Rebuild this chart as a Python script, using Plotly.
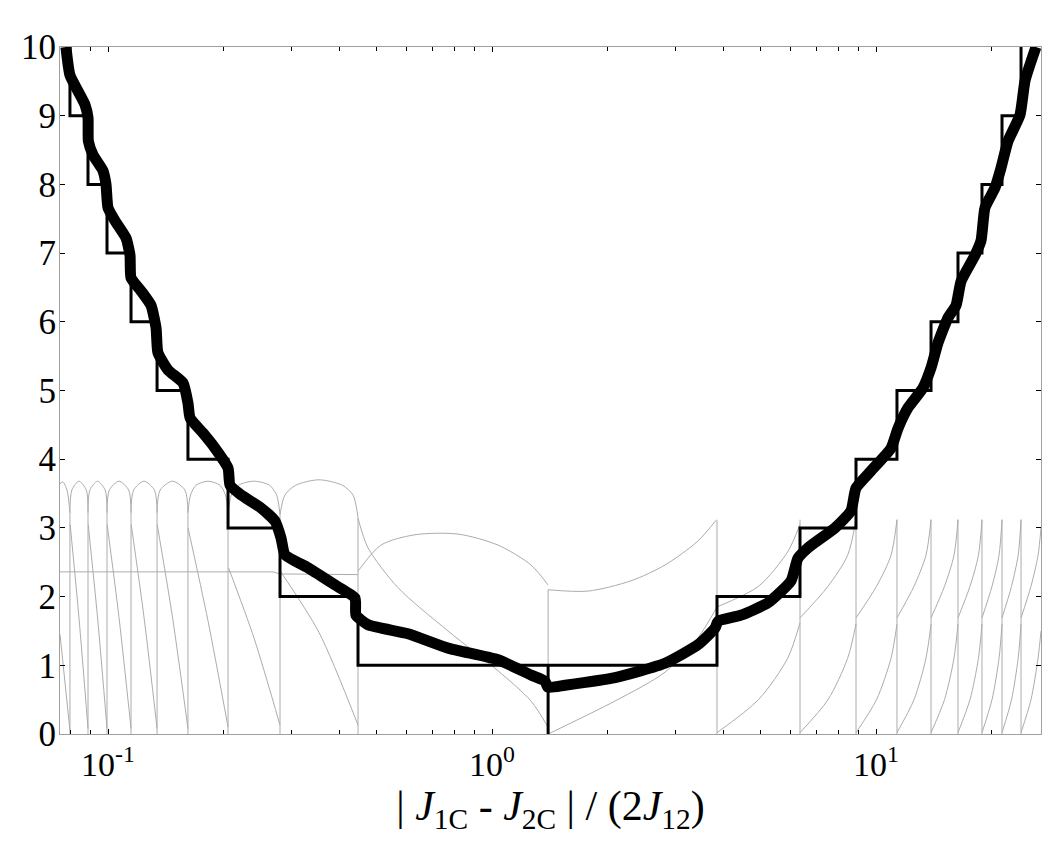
import plotly.graph_objects as go

# ---------------- data ----------------
# positions of the integer steps (x = |J1C - J2C| / (2 J12))
step_edges = [0.0796, 0.0887, 0.0994, 0.1148, 0.1342, 0.1615, 0.2054, 0.2805, 0.4478,
              1.40, 3.854, 6.340, 8.870, 11.34, 13.91, 16.35, 18.88, 21.29, 23.86]
step_levels = [10, 9, 8, 7, 6, 5, 4, 3, 2, 1, 1, 2, 3, 4, 5, 6, 7, 8, 9, 10]

# thick curve
thick_x = [0.0777, 0.0796, 0.0835, 0.0871, 0.0887, 0.0889, 0.0914, 0.0970, 0.0988, 0.1000,
           0.1043, 0.1114, 0.1141, 0.1148, 0.1219, 0.1294, 0.1334, 0.1349, 0.1433, 0.1568,
           0.1615, 0.1636, 0.1768, 0.1900, 0.2054, 0.2079, 0.2221, 0.2503, 0.2722, 0.2823,
           0.2890, 0.3317, 0.3900, 0.4398, 0.4424, 0.4755, 0.6043, 0.7682, 1.0366, 1.2634,
           1.374, 1.399, 1.550, 2.091, 2.822, 3.439, 3.808, 3.878, 4.451, 5.233,
           6.007, 6.264, 6.652, 7.822, 8.607, 8.870, 9.705, 10.94, 11.41, 12.12,
           13.26, 13.91, 14.50, 15.40, 16.16, 16.65, 18.11, 18.77, 19.22, 20.41,
           21.16, 22.07, 23.71, 24.44, 26.10]
thick_y = [10.0, 9.59, 9.36, 9.16, 8.97, 8.63, 8.43, 8.20, 8.00, 7.66,
           7.47, 7.22, 6.97, 6.64, 6.45, 6.24, 5.91, 5.55, 5.30, 5.11,
           4.82, 4.60, 4.38, 4.16, 3.87, 3.62, 3.48, 3.29, 3.10, 2.85,
           2.61, 2.42, 2.17, 1.98, 1.73, 1.59, 1.46, 1.25, 1.08, 0.86,
           0.77, 0.68, 0.71, 0.82, 1.03, 1.30, 1.54, 1.64, 1.73, 1.91,
           2.23, 2.56, 2.71, 3.00, 3.25, 3.58, 3.83, 4.16, 4.45, 4.75,
           5.04, 5.33, 5.69, 6.06, 6.24, 6.59, 6.97, 7.18, 7.66, 7.95,
           8.24, 8.63, 9.01, 9.51, 10.0]

# thin grey curves
vert_tops = [3.22, 3.22, 3.22, 3.22, 3.22, 3.22, 3.22, 3.19, 3.15,
             2.10, 3.12, 3.12, 3.12, 3.12, 3.12, 3.12, 3.12, 3.12, 3.12]

arch_x = [0.0750, 0.0763, 0.0782, 0.0796, None,
          0.0796, 0.0805, 0.0840, 0.0878, 0.0887, None,
          0.0887, 0.0897, 0.0939, 0.0983, 0.0994, None,
          0.0994, 0.1008, 0.1068, 0.1132, 0.1148, None,
          0.1148, 0.1166, 0.1241, 0.1321, 0.1342, None,
          0.1342, 0.1367, 0.1472, 0.1586, 0.1615, None,
          0.1615, 0.1641, 0.1695, 0.1821, 0.1957, 0.2022, 0.2054, None,
          0.2054, 0.2096, 0.2186, 0.2399, 0.2635, 0.2748, 0.2805, None,
          0.2805, 0.2890, 0.3080, 0.3542, 0.4078, 0.4345, 0.4478]
arch_y = [3.64, 3.67, 3.55, 3.22, None,
          3.22, 3.55, 3.68, 3.55, 3.22, None,
          3.22, 3.55, 3.68, 3.55, 3.22, None,
          3.22, 3.55, 3.68, 3.55, 3.22, None,
          3.22, 3.55, 3.68, 3.55, 3.22, None,
          3.22, 3.55, 3.68, 3.55, 3.22, None,
          3.22, 3.48, 3.62, 3.68, 3.62, 3.48, 3.22, None,
          3.22, 3.48, 3.62, 3.68, 3.62, 3.48, 3.19, None,
          3.19, 3.48, 3.62, 3.70, 3.62, 3.48, 3.15]

fall_x = [0.0750, 0.0796, None,
          0.0797, 0.0840, 0.0887, None,
          0.0888, 0.0939, 0.0994, None,
          0.0995, 0.1068, 0.1148, None,
          0.1149, 0.1241, 0.1342, None,
          0.1343, 0.1472, 0.1615, None,
          0.1616, 0.1821, 0.2054, None,
          0.2060, 0.2399, 0.2805, None,
          0.2810, 0.3542, 0.4478, None,
          0.4478, 0.4755, 0.5691, 0.7682, 1.0366, 1.2634, 1.399]
fall_y = [1.45, 0.05, None,
          3.05, 1.70, 0.08, None,
          3.05, 1.70, 0.08, None,
          3.05, 1.70, 0.08, None,
          3.05, 1.70, 0.08, None,
          3.05, 1.70, 0.08, None,
          3.00, 1.65, 0.10, None,
          2.42, 1.40, 0.13, None,
          2.37, 1.48, 0.13, None,
          3.14, 2.71, 2.13, 1.50, 0.92, 0.48, 0.10]

hline_x = [0.0750, 0.2689, 0.2805, 0.4478]
hline_y = [2.36, 2.36, 2.33, 2.32]

mid_arch_x = [0.4478, 0.5139, 0.6302, 0.8155, 1.0366, 1.2634, 1.399]
mid_arch_y = [2.37, 2.75, 2.90, 2.91, 2.75, 2.46, 2.17]

u_curve_x = [1.399, 1.778, 2.301, 2.822, 3.439, 3.831]
u_curve_y = [2.10, 2.08, 2.23, 2.46, 2.81, 3.11]

rise_lo_x = [1.40, 2.091, 2.822, 3.439, 3.854, None,
             3.854, 4.943, 5.885, 6.340, None,
             6.340, 7.499, 8.434, 8.870, None,
             8.870, 10.03, 10.94, 11.34, None,
             11.34, 12.56, 13.49, 13.91, None,
             13.91, 15.08, 15.96, 16.35, None,
             16.35, 17.57, 18.48, 18.88, None,
             18.88, 20.05, 20.91, 21.29, None,
             21.29, 22.54, 23.45, 23.86, None,
             23.86, 25.33, 26.42, 26.90]
rise_lo_y = [0.0, 0.48, 0.90, 1.40, 1.85, None,
             0.02, 0.50, 1.10, 1.62, None,
             0.02, 0.50, 1.10, 1.60, None,
             0.02, 0.50, 1.10, 1.60, None,
             0.02, 0.50, 1.10, 1.60, None,
             0.02, 0.50, 1.10, 1.60, None,
             0.02, 0.50, 1.10, 1.60, None,
             0.02, 0.50, 1.10, 1.60, None,
             0.02, 0.50, 1.10, 1.60, None,
             0.02, 0.50, 1.10, 1.50]

rise_hi_x = [3.854, 4.943, 5.885, 6.340, None,
             6.340, 7.499, 8.434, 8.870, None,
             8.870, 10.03, 10.94, 11.34, None,
             11.34, 12.56, 13.49, 13.91, None,
             13.91, 15.08, 15.96, 16.35, None,
             16.35, 17.57, 18.48, 18.88, None,
             18.88, 20.05, 20.91, 21.29, None,
             21.29, 22.54, 23.45, 23.86, None,
             23.86, 25.33, 26.42, 26.90]
rise_hi_y = [1.85, 2.15, 2.65, 3.05, None,
             1.69, 2.15, 2.60, 3.12, None,
             1.69, 2.15, 2.60, 3.12, None,
             1.69, 2.15, 2.60, 3.12, None,
             1.69, 2.15, 2.60, 3.12, None,
             1.69, 2.15, 2.60, 3.12, None,
             1.69, 2.15, 2.60, 3.12, None,
             1.69, 2.15, 2.60, 3.12, None,
             1.69, 2.15, 2.60, 3.00]

x_tickvals = [0.1, 1, 10]
x_ticktext = ["10<sup>-1</sup>", "10<sup>0</sup>", "10<sup>1</sup>"]
x_minor = [0.08, 0.09, 0.2, 0.3, 0.4, 0.5, 0.6, 0.7, 0.8, 0.9,
           2, 3, 4, 5, 6, 7, 8, 9, 20]
y_tickvals = [0, 1, 2, 3, 4, 5, 6, 7, 8, 9, 10]

# ---------------- figure ----------------
GREY = "rgb(172,172,172)"
fig = go.Figure()

# grey vertical lines at the step positions
vx, vy = [], []
for e, t in zip(step_edges, vert_tops):
    vx += [e, e, None]
    vy += [0, t, None]
fig.add_trace(go.Scatter(x=vx, y=vy, mode="lines", line=dict(color=GREY, width=1),
                         hoverinfo="skip", showlegend=False))

for xs, ys, shape in [(arch_x, arch_y, "spline"), (fall_x, fall_y, "spline"),
                      (hline_x, hline_y, "linear"), (mid_arch_x, mid_arch_y, "spline"),
                      (u_curve_x, u_curve_y, "spline"), (rise_lo_x, rise_lo_y, "spline"),
                      (rise_hi_x, rise_hi_y, "spline")]:
    fig.add_trace(go.Scatter(x=xs, y=ys, mode="lines",
                             line=dict(color=GREY, width=1, shape=shape, smoothing=0.8),
                             hoverinfo="skip", showlegend=False, connectgaps=False))

# staircase
sx, sy = [], []
for i, e in enumerate(step_edges):
    a, b = step_levels[i], step_levels[i + 1]
    if a == b:
        sx += [e, e, e]
        sy += [a, 0, b]
    else:
        sx += [e, e]
        sy += [a, b]
fig.add_trace(go.Scatter(x=sx, y=sy, mode="lines", line=dict(color="black", width=3),
                         showlegend=False))

# thick curve
fig.add_trace(go.Scatter(x=thick_x, y=thick_y, mode="lines",
                         line=dict(color="black", width=11, shape="spline", smoothing=0.5),
                         showlegend=False))

FONT = "Liberation Serif"
fig.update_layout(
    width=1050, height=841,
    margin=dict(l=52, r=17, t=39, b=115, autoexpand=False),
    paper_bgcolor="white", plot_bgcolor="white",
    font=dict(family=FONT, color="black", size=28),
    showlegend=False,
)
fig.update_xaxes(
    type="log", range=[-1.125, 1.4297], automargin=False,
    tickvals=x_tickvals, ticktext=x_ticktext,
    ticks="inside", ticklen=5, tickcolor="black", tickwidth=1,
    minor=dict(tickvals=x_minor, ticks="inside", ticklen=4, tickcolor="black"),
    showline=True, linecolor="rgb(160,160,160)", linewidth=1, mirror="ticks",
    showgrid=False, zeroline=False,
    tickfont=dict(family=FONT, size=34),
    title=dict(text="| <i>J</i><sub>1C</sub> - <i>J</i><sub>2C</sub> | / (2<i>J</i><sub>12</sub>)",
               font=dict(family=FONT, size=42), standoff=2),
)
fig.update_yaxes(
    range=[0, 10], tickvals=y_tickvals, automargin=False,
    ticks="inside", ticklen=5, tickcolor="black", tickwidth=1,
    showline=True, linecolor="rgb(160,160,160)", linewidth=1, mirror="ticks",
    showgrid=False, zeroline=False,
    tickfont=dict(family=FONT, size=35), ticklabelstandoff=-4,
)

fig.write_html("out.html")
